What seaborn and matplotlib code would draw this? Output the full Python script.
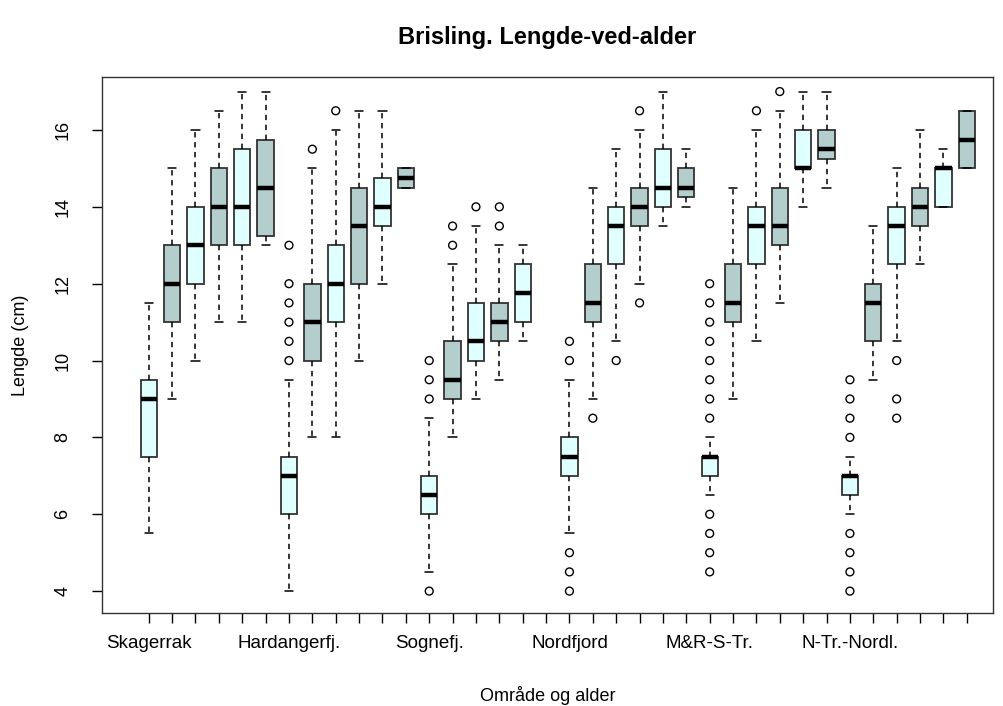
import matplotlib
matplotlib.use("Agg")
import matplotlib.pyplot as plt
import numpy as np
import pandas as pd
import seaborn as sns

# Område (area) names, six age groups each
areas = ["Skagerrak", "Hardangerfj.", "Sognefj.", "Nordfjord", "M&R-S-Tr.", "N-Tr.-Nordl."]
ages = [1, 2, 3, 4, 5, 6]

# five-number summaries, one row per area, one entry per age
# (None = no fish of that age in that area)
whislo = [
    [5.5, 9, 10, 11, 11, 13],
    [4, 8, 8, 10, 12, 14.5],
    [4.5, 8, 9, 9.5, 10.5, None],
    [5.5, 9, 10.5, 12, 13.5, 14],
    [6.5, 9, 10.5, 11.5, 14, 14.5],
    [6, 9.5, 10.5, 12.5, 14, 15],
]
q1 = [
    [7.5, 11, 12, 13, 13, 13.25],
    [6, 10, 11, 12, 13.5, 14.5],
    [6, 9, 10, 10.5, 11, None],
    [7, 11, 12.5, 13.5, 14, 14.25],
    [7, 11, 12.5, 13, 15, 15.25],
    [6.5, 10.5, 12.5, 13.5, 14, 15],
]
med = [
    [9, 12, 13, 14, 14, 14.5],
    [7, 11, 12, 13.5, 14, 14.75],
    [6.5, 9.5, 10.5, 11, 11.75, None],
    [7.5, 11.5, 13.5, 14, 14.5, 14.5],
    [7.5, 11.5, 13.5, 13.5, 15, 15.5],
    [7, 11.5, 13.5, 14, 15, 15.75],
]
q3 = [
    [9.5, 13, 14, 15, 15.5, 15.75],
    [7.5, 12, 13, 14.5, 14.75, 15],
    [7, 10.5, 11.5, 11.5, 12.5, None],
    [8, 12.5, 14, 14.5, 15.5, 15],
    [7.5, 12.5, 14, 14.5, 16, 16],
    [7, 12, 14, 14.5, 15, 16.5],
]
whishi = [
    [11.5, 15, 16, 16.5, 17, 17],
    [9.5, 15, 16, 16.5, 16.5, 15],
    [8.5, 12.5, 13.5, 13, 13, None],
    [9.5, 14.5, 15.5, 16, 17, 15.5],
    [8, 14.5, 16, 16.5, 17, 17],
    [7.5, 13.5, 15, 16, 15.5, 16.5],
]
outliers = [
    [[], [], [], [], [], []],
    [[10, 10.5, 11, 11.5, 12, 13], [15.5], [16.5], [], [], []],
    [[4, 9, 9.5, 10], [13, 13.5], [14], [13.5, 14], [], []],
    [[4, 4.5, 5, 10, 10.5], [8.5], [10], [11.5, 16.5], [], []],
    [[4.5, 5, 5.5, 6, 8.5, 9, 9.5, 10, 10.5, 11, 11.5, 12], [], [16.5], [17], [], []],
    [[4, 4.5, 5, 5.5, 8, 8.5, 9, 9.5], [], [8.5, 9, 10], [], [], []],
]

col_odd = "#E0FFFF"   # lightcyan
col_even = "#B4CDCD"  # lightcyan3

sns.set_style("ticks")
plt.rcParams["font.family"] = ["Liberation Sans", "DejaVu Sans"]
plt.rcParams["text.color"] = "black"
plt.rcParams["axes.labelcolor"] = "black"
plt.rcParams["xtick.color"] = "black"
plt.rcParams["ytick.color"] = "black"

fig = plt.figure(figsize=(10.04, 7.06), dpi=100)
ax = fig.add_axes([0.1016, 0.1317, 0.8874, 0.7593])

stats = []
pos = []
colors = []
flier_rows = []
for i, area in enumerate(areas):
    for j, age in enumerate(ages):
        x = i * len(ages) + j
        if med[i][j] is None:
            continue
        stats.append(dict(med=med[i][j], q1=q1[i][j], q3=q3[i][j],
                          whislo=whislo[i][j], whishi=whishi[i][j], fliers=[]))
        pos.append(x)
        colors.append(col_odd if j % 2 == 0 else col_even)
        for v in outliers[i][j]:
            flier_rows.append({"x": x, "lengde": v})

bp = ax.bxp(stats, positions=pos, widths=0.7, patch_artist=True, showfliers=False,
            boxprops=dict(edgecolor="#333333", linewidth=1.3),
            whiskerprops=dict(color="black", linewidth=1.1, linestyle=(0, (3.5, 3))),
            capprops=dict(color="black", linewidth=1.1),
            medianprops=dict(color="black", linewidth=3.2, solid_capstyle="butt"))
for patch, c in zip(bp["boxes"], colors):
    patch.set_facecolor(c)

fliers = pd.DataFrame(flier_rows)
sns.scatterplot(data=fliers, x="x", y="lengde", ax=ax, marker="o", s=32,
                facecolor="none", edgecolor="black", linewidth=1.0, legend=False, zorder=3)

n = len(areas) * len(ages)
ax.set_xlim(-2.0, n - 1 + 1.12)
ax.set_ylim(3.43, 17.38)
ax.set_xticks(range(n))
ax.set_xticklabels([areas[k // len(ages)] if k % len(ages) == 0 else "" for k in range(n)],
                   fontsize=13.5)
ax.set_yticks([4, 6, 8, 10, 12, 14, 16])
ax.set_yticklabels(["4", "6", "8", "10", "12", "14", "16"], fontsize=13, rotation=90,
                   va="center")
ax.tick_params(axis="x", direction="out", length=7, width=1, pad=9)
ax.tick_params(axis="y", direction="out", length=7, width=1, pad=15)
for sp in ax.spines.values():
    sp.set_visible(True)
    sp.set_color("#333333")
    sp.set_linewidth(1.0)

ax.set_xlabel("Område og alder", fontsize=13, labelpad=24)
ax.set_ylabel("Lengde (cm)", fontsize=13, labelpad=18)
ax.set_title("Brisling. Lengde-ved-alder", fontsize=17, fontweight="bold", pad=24)

fig.savefig("out.png", dpi=100, facecolor="white")
